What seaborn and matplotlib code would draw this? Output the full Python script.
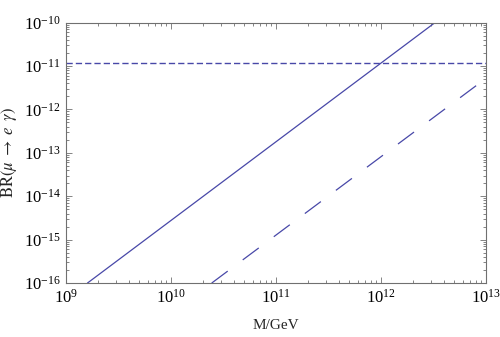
import matplotlib
matplotlib.use("Agg")
import matplotlib.pyplot as plt
import numpy as np
import seaborn as sns
from matplotlib.ticker import LogLocator, NullFormatter

# values (log-log, M in GeV)
solid_M = [1.6e9, 3.27e12]
solid_BR = [1e-16, 1e-10]
longdash_M = [2.44e10, 1e13]
longdash_BR = [1e-16, 5.2e-12]
bound_BR = 1.2e-11  # experimental limit

x_lim = (1e9, 1e13)
y_lim = (1e-16, 1e-10)

sns.set_style("ticks")
plt.rcParams["font.family"] = ["Liberation Serif", "DejaVu Serif"]
plt.rcParams["mathtext.fontset"] = "stix"

line_color = "#4848a8"
axis_color = "#707070"

fig = plt.figure(figsize=(5.0, 3.37), dpi=100)
ax = fig.add_axes([0.132, 0.160, 0.840, 0.773])
ax.set_xscale("log")
ax.set_yscale("log")

sns.lineplot(x=solid_M, y=solid_BR, ax=ax, color=line_color, linewidth=0.9)
sns.lineplot(x=longdash_M, y=longdash_BR, ax=ax, color=line_color, linewidth=0.9)
ax.lines[-1].set_dashes((16, 15))
ax.axhline(bound_BR, color=line_color, linewidth=1.0, dashes=(4.5, 2.2))

ax.set_xlim(*x_lim)
ax.set_ylim(*y_lim)

ax.xaxis.set_major_locator(LogLocator(base=10, numticks=10))
ax.yaxis.set_major_locator(LogLocator(base=10, numticks=10))
ax.xaxis.set_minor_locator(LogLocator(base=10, subs=np.arange(2, 10), numticks=50))
ax.yaxis.set_minor_locator(LogLocator(base=10, subs=np.arange(2, 10), numticks=50))
ax.xaxis.set_minor_formatter(NullFormatter())
ax.yaxis.set_minor_formatter(NullFormatter())

for side in ["top", "right", "bottom", "left"]:
    ax.spines[side].set_visible(True)
    ax.spines[side].set_color(axis_color)
    ax.spines[side].set_linewidth(0.8)

ax.tick_params(which="both", direction="in", top=True, right=True,
               color=axis_color, width=0.6)
ax.tick_params(which="major", length=4, labelsize=12, labelcolor="black", pad=4)
ax.tick_params(which="minor", length=2)

ax.set_xlabel("M/GeV", fontsize=11, labelpad=9)
ax.set_ylabel(r"$\mathrm{BR}(\mu\;\rightarrow\;e\;\;\gamma)$", fontsize=12, labelpad=3)

fig.savefig("out.png", dpi=100)
